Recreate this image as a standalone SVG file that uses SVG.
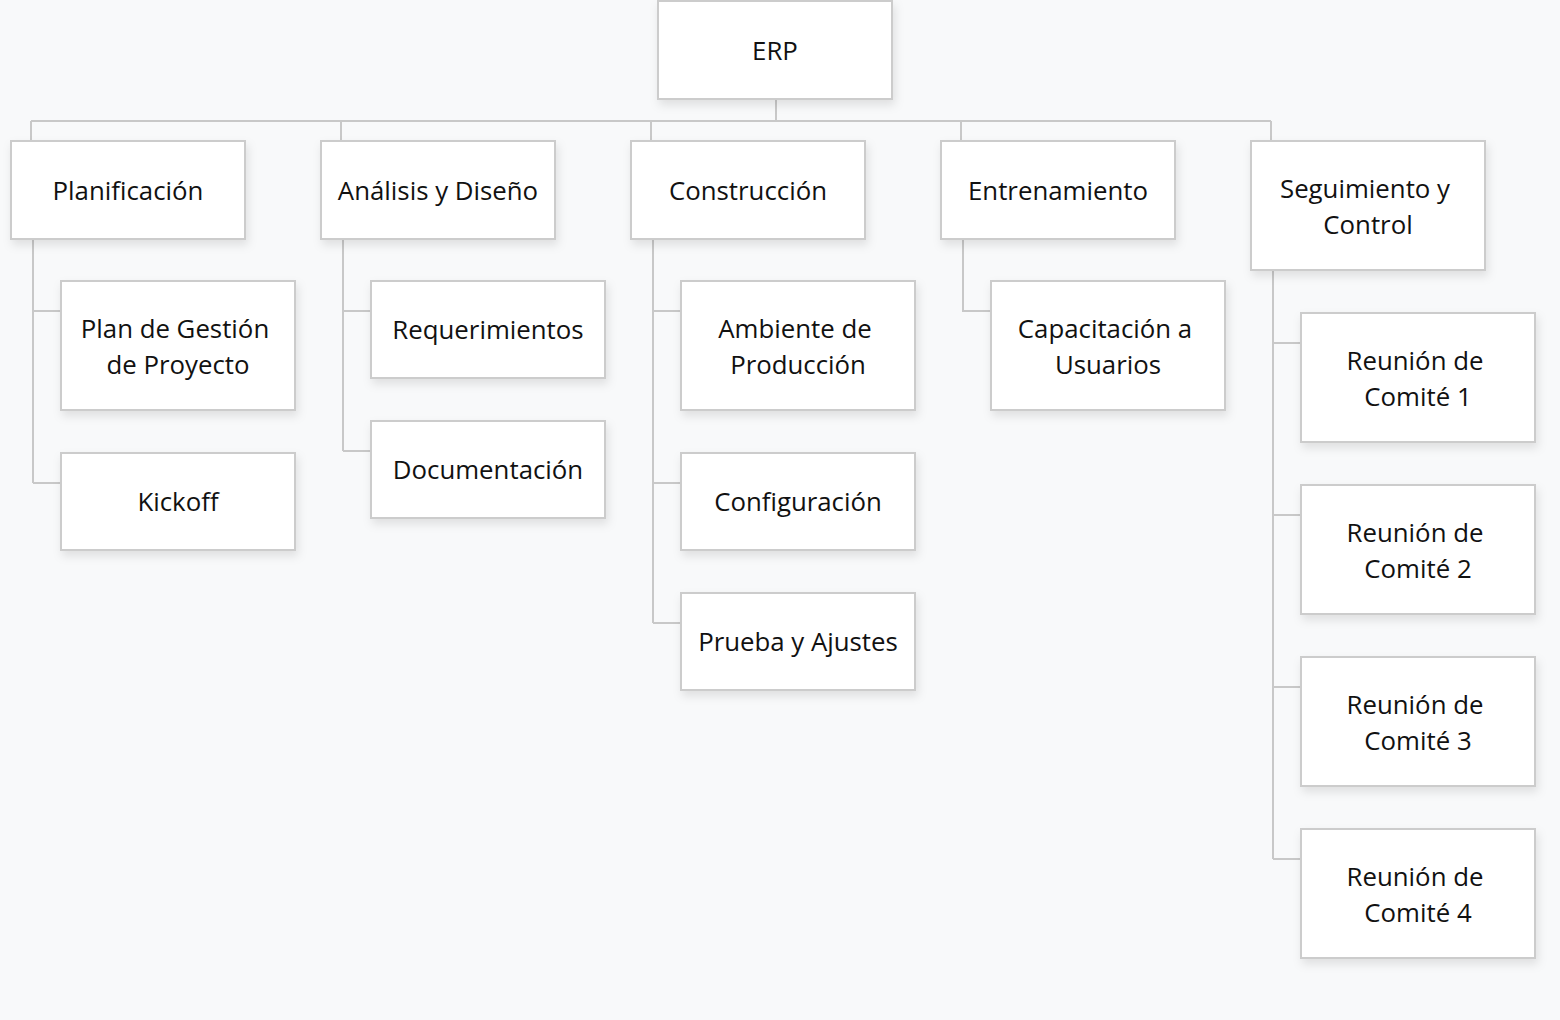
<svg xmlns="http://www.w3.org/2000/svg" width="1560" height="1020" viewBox="0 0 1560 1020">
<style>
.bg{fill:#f8f9fa}
.box{fill:#ffffff;stroke:#cccccc;stroke-width:2;filter:url(#sh)}
.lbl{font-family:"Open Sans","Noto Sans",sans-serif;font-size:25.8px;fill:#111111;text-anchor:middle}
.ln{fill:none;stroke:#c8c8c8;stroke-width:2}
</style>
<defs>
<filter id="sh" x="-10%" y="-10%" width="130%" height="140%">
<feDropShadow dx="2" dy="5" stdDeviation="5" flood-color="#000" flood-opacity="0.10"/>
</filter>
</defs>
<rect class="bg" x="0" y="0" width="1560" height="1020"/>
<g id="connectors">
<path class="ln" d="M776 99V121M31 121H1271M31 121V141M341 121V141M651 121V141M961 121V141M1271 121V141"/>
<path class="ln" d="M33 239V483M33 311H61M33 483H61"/>
<path class="ln" d="M343 239V451M343 311H371M343 451H371"/>
<path class="ln" d="M653 239V623M653 311H681M653 483H681M653 623H681"/>
<path class="ln" d="M963 239V311H991"/>
<path class="ln" d="M1273 270V859M1273 343H1301M1273 515H1301M1273 687H1301M1273 859H1301"/>
</g>
<g id="erp"><rect class="box" x="658" y="1" width="234" height="98"/><text class="lbl" x="775" y="60">ERP</text></g>
<g id="planificacion"><rect class="box" x="11" y="141" width="234" height="98"/><text class="lbl" x="128" y="200">Planificación</text></g>
<g id="analisis"><rect class="box" x="321" y="141" width="234" height="98"/><text class="lbl" x="438" y="200">Análisis y Diseño</text></g>
<g id="construccion"><rect class="box" x="631" y="141" width="234" height="98"/><text class="lbl" x="748" y="200">Construcción</text></g>
<g id="entrenamiento"><rect class="box" x="941" y="141" width="234" height="98"/><text class="lbl" x="1058" y="200">Entrenamiento</text></g>
<g id="seguimiento"><rect class="box" x="1251" y="141" width="234" height="129"/><text class="lbl" x="1365" y="198">Seguimiento y</text><text class="lbl" x="1368" y="234">Control</text></g>
<g id="plan-gestion"><rect class="box" x="61" y="281" width="234" height="129"/><text class="lbl" x="175" y="338">Plan de Gestión</text><text class="lbl" x="178" y="374">de Proyecto</text></g>
<g id="kickoff"><rect class="box" x="61" y="453" width="234" height="97"/><text class="lbl" x="178" y="511">Kickoff</text></g>
<g id="requerimientos"><rect class="box" x="371" y="281" width="234" height="97"/><text class="lbl" x="488" y="339">Requerimientos</text></g>
<g id="documentacion"><rect class="box" x="371" y="421" width="234" height="97"/><text class="lbl" x="488" y="479">Documentación</text></g>
<g id="ambiente"><rect class="box" x="681" y="281" width="234" height="129"/><text class="lbl" x="795" y="338">Ambiente de</text><text class="lbl" x="798" y="374">Producción</text></g>
<g id="configuracion"><rect class="box" x="681" y="453" width="234" height="97"/><text class="lbl" x="798" y="511">Configuración</text></g>
<g id="prueba"><rect class="box" x="681" y="593" width="234" height="97"/><text class="lbl" x="798" y="651">Prueba y Ajustes</text></g>
<g id="capacitacion"><rect class="box" x="991" y="281" width="234" height="129"/><text class="lbl" x="1105" y="338">Capacitación a</text><text class="lbl" x="1108" y="374">Usuarios</text></g>
<g id="reunion1"><rect class="box" x="1301" y="313" width="234" height="129"/><text class="lbl" x="1415" y="370">Reunión de</text><text class="lbl" x="1418" y="406">Comité 1</text></g>
<g id="reunion2"><rect class="box" x="1301" y="485" width="234" height="129"/><text class="lbl" x="1415" y="542">Reunión de</text><text class="lbl" x="1418" y="578">Comité 2</text></g>
<g id="reunion3"><rect class="box" x="1301" y="657" width="234" height="129"/><text class="lbl" x="1415" y="714">Reunión de</text><text class="lbl" x="1418" y="750">Comité 3</text></g>
<g id="reunion4"><rect class="box" x="1301" y="829" width="234" height="129"/><text class="lbl" x="1415" y="886">Reunión de</text><text class="lbl" x="1418" y="922">Comité 4</text></g>
</svg>
